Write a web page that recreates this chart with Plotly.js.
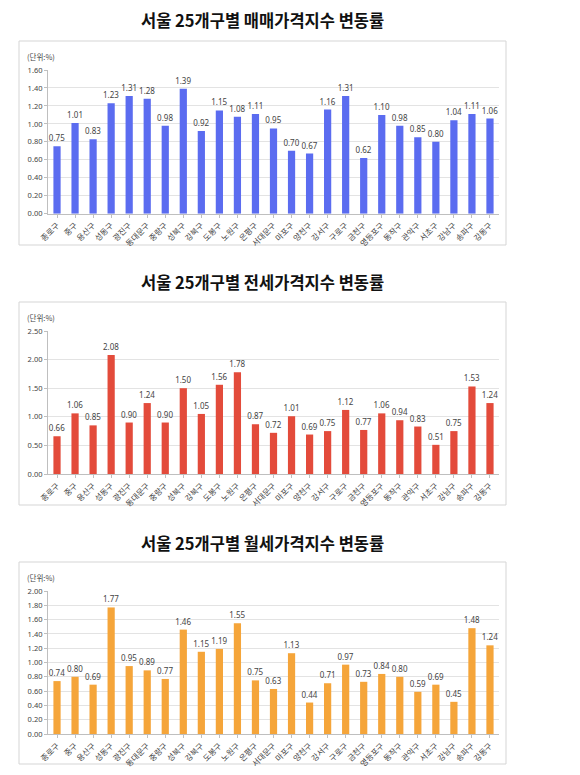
<!DOCTYPE html>
<html>
<head>
<meta charset="utf-8">
<script src="https://cdn.plot.ly/plotly-3.0.1.min.js"></script>
<style>
html,body{margin:0;padding:0;background:#fff;}
#chart{width:580px;height:775px;}
</style>
</head>
<body>
<div id="chart"></div>
<script>
const districts = ["종로구","중구","용산구","성동구","광진구","동대문구","중랑구","성북구","강북구","도봉구","노원구","은평구","서대문구","마포구","양천구","강서구","구로구","금천구","영등포구","동작구","관악구","서초구","강남구","송파구","강동구"];
const saleChange = [0.75,1.01,0.83,1.23,1.31,1.28,0.98,1.39,0.92,1.15,1.08,1.11,0.95,0.70,0.67,1.16,1.31,0.62,1.10,0.98,0.85,0.80,1.04,1.11,1.06];
const jeonseChange = [0.66,1.06,0.85,2.08,0.90,1.24,0.90,1.50,1.05,1.56,1.78,0.87,0.72,1.01,0.69,0.75,1.12,0.77,1.06,0.94,0.83,0.51,0.75,1.53,1.24];
const monthlyChange = [0.74,0.80,0.69,1.77,0.95,0.89,0.77,1.46,1.15,1.19,1.55,0.75,0.63,1.13,0.44,0.71,0.97,0.73,0.84,0.80,0.59,0.69,0.45,1.48,1.24];
const chartTitles = ["서울 25개구별 매매가격지수 변동률","서울 25개구별 전세가격지수 변동률","서울 25개구별 월세가격지수 변동률"];
const yTickVals = [
  [0,0.2,0.4,0.6,0.8,1.0,1.2,1.4,1.6],
  [0,0.5,1.0,1.5,2.0,2.5],
  [0,0.2,0.4,0.6,0.8,1.0,1.2,1.4,1.6,1.8,2.0]
];
const unitLabel = "(단위:%)";

const W = 580, H = 775;
const px = v => v / W;
const py = v => 1 - v / H;

const series = [saleChange, jeonseChange, monthlyChange];
const colors = ["#5b6cf0", "#e34b3b", "#f5a53a"];
// pixel geometry: [plot top, plot bottom, box top, box bottom, title y]
const geo = [
  [70, 213.7, 41, 245, 20],
  [331, 474, 302, 505, 282],
  [591, 734, 562, 764, 543]
];
const yMax = [1.6, 2.5, 2.0];

const traces = [];
const layout = {
  width: W, height: H,
  margin: {l:0, r:0, t:0, b:0},
  paper_bgcolor: "#fff",
  plot_bgcolor: "#fff",
  showlegend: false,
  font: {family: "'Noto Sans CJK KR', 'Noto Sans', sans-serif", color: "#444"},
  bargap: 0.6,
  shapes: [],
  annotations: []
};

series.forEach((vals, i) => {
  const sfx = i === 0 ? "" : String(i + 1);
  const g = geo[i];
  traces.push({
    type: "bar",
    x: districts,
    y: vals,
    xaxis: "x" + sfx,
    yaxis: "y" + sfx,
    marker: {color: colors[i]},
    text: vals.map(v => v.toFixed(2)),
    textposition: "outside",
    constraintext: "none",
    cliponaxis: false,
    textfont: {size: 8, color: "#444", family: "'Noto Sans', sans-serif"},
    hoverinfo: "x+y"
  });
  layout["xaxis" + sfx] = {
    domain: [px(48), px(499)],
    anchor: "y" + sfx,
    type: "category",
    tickangle: -45,
    tickfont: {size: 8, color: "#444", family: "'Noto Sans CJK KR', sans-serif"},
    showline: true, linecolor: "#bfbfbf", linewidth: 1,
    ticks: "outside", ticklen: 3, tickcolor: "#bfbfbf",
    showgrid: false, zeroline: false,
    fixedrange: true
  };
  layout["yaxis" + sfx] = {
    domain: [py(g[1]), py(g[0])],
    anchor: "x" + sfx,
    range: [0, yMax[i]],
    tickvals: yTickVals[i],
    ticktext: yTickVals[i].map(v => v.toFixed(2)),
    tickfont: {size: 7.5, color: "#444", family: "'Noto Sans', sans-serif"},
    showline: true, linecolor: "#bfbfbf", linewidth: 1,
    ticks: "outside", ticklen: 3, tickcolor: "#bfbfbf",
    showgrid: true, gridcolor: "#e3e3e3", gridwidth: 1,
    zeroline: false,
    fixedrange: true
  };
  layout.shapes.push({
    type: "rect", xref: "paper", yref: "paper",
    x0: px(19), x1: px(506), y0: py(g[3]), y1: py(g[2]),
    line: {color: "#d5d5d5", width: 1}, fillcolor: "rgba(0,0,0,0)", layer: "below"
  });
  layout.annotations.push({
    xref: "paper", yref: "paper",
    x: px(262), y: py(g[4]),
    text: "<b>" + chartTitles[i] + "</b>",
    showarrow: false,
    xanchor: "center", yanchor: "middle",
    font: {size: 16.5, color: "#111", family: "'Noto Sans CJK KR', sans-serif"}
  });
  layout.annotations.push({
    xref: "paper", yref: "paper",
    x: px(25), y: py(g[2] + 15),
    text: unitLabel,
    showarrow: false,
    xanchor: "left", yanchor: "middle",
    font: {size: 7.5, color: "#444", family: "'Noto Sans CJK KR', sans-serif"}
  });
});

Plotly.newPlot("chart", traces, layout, {displayModeBar: false, staticPlot: true});
</script>
</body>
</html>
